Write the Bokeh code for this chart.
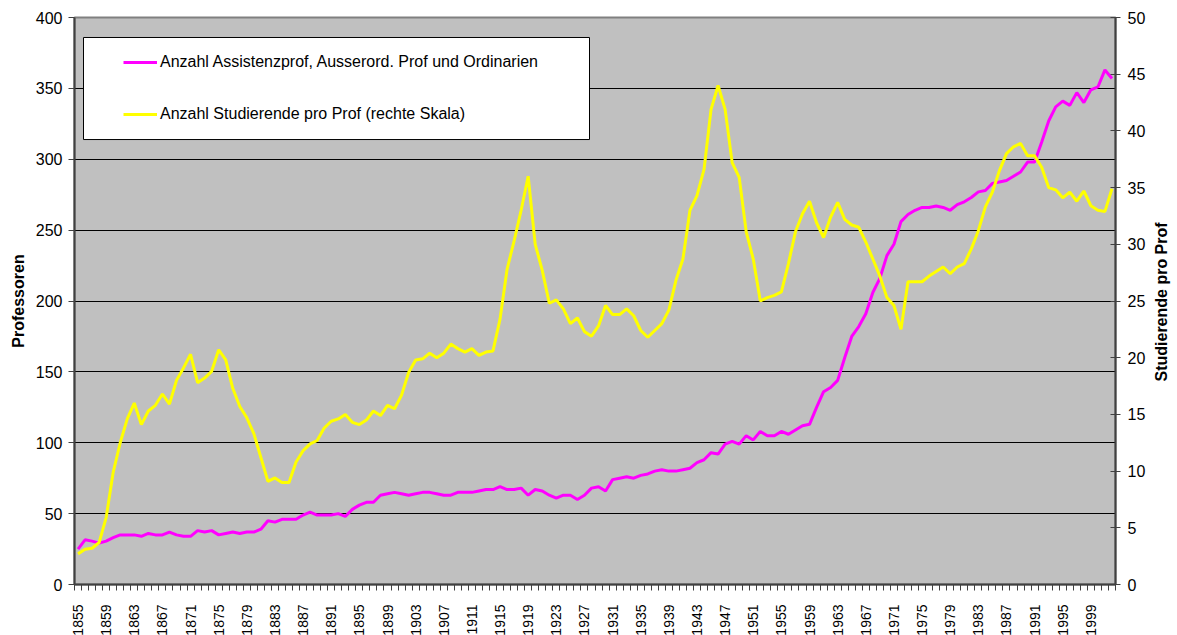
import math
from bokeh.plotting import figure
from bokeh.models import (Range1d, LinearAxis, FixedTicker, Legend, LegendItem,
                          BoxAnnotation, ColumnDataSource)
from bokeh.embed import file_html
from bokeh.resources import INLINE

# ---------------- data ----------------
years = list(range(1855, 2003))

professoren = [
    25, 31.5, 30.6, 29.2, 30.6, 33, 35, 35, 35, 34,            # 1855-1864
    36, 35, 35, 37, 35, 34, 34, 38, 37, 38,                    # 1865-1874
    35, 36, 37, 36, 37, 37, 39, 45, 44, 46,                    # 1875-1884
    46, 46, 49, 51, 49, 49, 49, 50, 48, 53,                    # 1885-1894
    56, 58, 58, 63, 64, 65, 64, 63, 64, 65,                    # 1895-1904
    65, 64, 63, 63, 65, 65, 65, 66, 67, 67,                    # 1905-1914
    69, 67, 67, 68, 63, 67, 66, 63, 61, 63,                    # 1915-1924
    63, 60, 63, 68, 69, 66, 74, 75, 76, 75,                    # 1925-1934
    77, 78, 80, 81, 80, 80, 81, 82, 86, 88,                    # 1935-1944
    93, 92, 99, 101, 99, 105, 102, 108, 105, 105,              # 1945-1954
    108, 106, 109, 112, 113, 125, 136, 139, 144, 160,          # 1955-1964
    175, 182, 191, 206, 216, 232, 240, 256, 261, 264,          # 1965-1974
    266, 266, 267, 266, 264, 268, 270, 273, 277, 278,          # 1975-1984
    283, 284, 285, 288, 291, 298, 298, 312, 327, 337,          # 1985-1994
    341, 338, 347, 340, 349, 351, 363, 357,                    # 1995-2002
]

studierende_pro_prof = [
    2.7, 3.1, 3.2, 3.7, 5.9, 9.9, 12.5, 14.6, 16.0, 14.1,      # 1855-1864
    15.3, 15.8, 16.8, 15.9, 18.0, 19.1, 20.3, 17.8, 18.2, 18.8,  # 1865-1874
    20.7, 19.8, 17.3, 15.7, 14.7, 13.3, 11.2, 9.1, 9.4, 9.0,   # 1875-1884
    9.0, 10.8, 11.8, 12.4, 12.7, 13.8, 14.4, 14.6, 15.0, 14.3,  # 1885-1894
    14.1, 14.5, 15.3, 14.9, 15.8, 15.5, 16.7, 18.7, 19.8, 19.9,  # 1895-1904
    20.4, 20.0, 20.4, 21.2, 20.8, 20.5, 20.8, 20.2, 20.5, 20.6,  # 1905-1914
    23.4, 27.8, 30.3, 33.0, 36.0, 30.0, 27.7, 24.8, 25.1, 24.3,  # 1915-1924
    23.0, 23.5, 22.3, 21.9, 22.8, 24.6, 23.8, 23.8, 24.3, 23.7,  # 1925-1934
    22.4, 21.8, 22.4, 23.0, 24.2, 26.8, 28.7, 33.0, 34.3, 36.6,  # 1935-1944
    41.9, 44.0, 41.9, 37.2, 35.9, 31.1, 28.7, 25.0, 25.3, 25.5,  # 1945-1954
    25.8, 28.3, 31.1, 32.7, 33.8, 31.9, 30.6, 32.4, 33.7, 32.2,  # 1955-1964
    31.7, 31.5, 30.2, 28.7, 27.2, 25.3, 24.6, 22.5, 26.7, 26.7,  # 1965-1974
    26.7, 27.2, 27.6, 28.0, 27.4, 28.0, 28.3, 29.6, 31.2, 33.3,  # 1975-1984
    34.6, 36.5, 38.0, 38.6, 38.9, 37.8, 37.8, 36.8, 35.0, 34.8,  # 1985-1994
    34.1, 34.6, 33.8, 34.7, 33.4, 33.0, 32.9, 34.9,            # 1995-2002
]

left_ticks = [0, 50, 100, 150, 200, 250, 300, 350, 400]
grid_ticks = [50, 100, 150, 200, 250, 300, 350]
right_ticks = [0, 5, 10, 15, 20, 25, 30, 35, 40, 45, 50]
label_years = list(range(1855, 2003, 4))

label_prof = "Anzahl Assistenzprof, Ausserord. Prof und Ordinarien"
label_stud = "Anzahl Studierende pro Prof (rechte Skala)"
title_left = "Professoren"
title_right = "Studierende pro Prof"

assert len(professoren) == len(years) and len(studierende_pro_prof) == len(years)

# ---------------- style ----------------
FONT = "Liberation Sans"
AXIS_COLOR = "#404040"
FRAME_W, FRAME_H = 1041, 567
RIGHT_TITLE_START = 17.9   # where the bottom-to-top right title begins (right scale)

p = figure(frame_width=FRAME_W, frame_height=FRAME_H,
           output_backend="svg", toolbar_location=None,
           x_range=Range1d(years[0] - 0.5, years[-1] + 0.5),
           y_range=Range1d(left_ticks[0], left_ticks[-1]),
           min_border_left=74, min_border_right=56,
           min_border_top=17, min_border_bottom=46,
           background_fill_color="#C0C0C0", border_fill_color="white",
           outline_line_color="#808080", outline_line_width=2)
p.extra_y_ranges = {"right": Range1d(right_ticks[0], right_ticks[-1])}

p.xgrid.visible = False
p.ygrid.ticker = FixedTicker(ticks=grid_ticks)
p.ygrid.grid_line_color = "black"
p.ygrid.grid_line_width = 1

# x axis
xa = p.below[0]
xa.ticker = FixedTicker(ticks=label_years,
                        minor_ticks=[y - 0.5 for y in years] + [years[-1] + 0.5])
xa.major_label_orientation = math.pi / 2
xa.major_tick_out = 0
xa.major_tick_in = 0
xa.minor_tick_out = 6
xa.minor_tick_in = 0
xa.minor_tick_line_color = AXIS_COLOR
xa.major_label_standoff = 14
xa.major_label_text_font = FONT
xa.major_label_text_font_size = "14px"
xa.major_label_text_color = "black"
xa.axis_line_color = AXIS_COLOR
xa.axis_line_width = 2

# left axis
ya = p.left[0]
ya.ticker = FixedTicker(ticks=left_ticks)
ya.major_tick_out = 6
ya.major_tick_in = 0
ya.minor_tick_out = 0
ya.minor_tick_in = 0
ya.major_tick_line_color = AXIS_COLOR
ya.major_label_standoff = 6
ya.major_label_text_font = FONT
ya.major_label_text_font_size = "16px"
ya.major_label_text_color = "black"
ya.axis_line_color = AXIS_COLOR
ya.axis_line_width = 2
ya.axis_label = title_left
ya.axis_label_text_font = FONT
ya.axis_label_text_font_size = "16px"
ya.axis_label_text_font_style = "bold"
ya.axis_label_text_color = "black"
ya.axis_label_standoff = 6

# right axis
ra = LinearAxis(y_range_name="right", ticker=FixedTicker(ticks=right_ticks))
ra.major_tick_out = 5
ra.major_tick_in = 5
ra.minor_tick_out = 0
ra.minor_tick_in = 0
ra.major_tick_line_color = AXIS_COLOR
ra.major_label_standoff = 7
ra.major_label_text_font = FONT
ra.major_label_text_font_size = "16px"
ra.major_label_text_color = "black"
ra.axis_line_color = AXIS_COLOR
ra.axis_line_width = 2
p.add_layout(ra, "right")

# right axis title (reads bottom-to-top as in the original), set as a
# rotated single tick label of a bare companion axis
rt = LinearAxis(y_range_name="right",
                ticker=FixedTicker(ticks=[RIGHT_TITLE_START], minor_ticks=[]))
rt.major_label_overrides = {RIGHT_TITLE_START: title_right}
rt.major_label_orientation = math.pi / 2
rt.axis_line_color = None
rt.major_tick_line_color = None
rt.minor_tick_line_color = None
rt.major_tick_out = 0
rt.major_tick_in = 0
rt.major_label_standoff = 13
rt.major_label_text_font = FONT
rt.major_label_text_font_size = "16px"
rt.major_label_text_font_style = "bold"
rt.major_label_text_color = "black"
p.add_layout(rt, "right")

# lines
src = ColumnDataSource(dict(year=years, prof=professoren, stud=studierende_pro_prof))
r_prof = p.line("year", "prof", source=src, line_color="#FF00FF", line_width=3)
r_stud = p.line("year", "stud", source=src, y_range_name="right",
                line_color="#FFFF00", line_width=3)

# legend frame (white box) + legend entries
box = BoxAnnotation(left=1855.78, right=1927.72, top=385.9, bottom=313.9,
                    fill_color="white", fill_alpha=1.0,
                    line_color="black", line_width=1, line_alpha=1.0)
p.add_layout(box)

legend = Legend(items=[LegendItem(label=label_prof, renderers=[r_prof]),
                       LegendItem(label=label_stud, renderers=[r_stud])],
                location=(49, 460), padding=0, margin=0, spacing=32,
                glyph_width=34, glyph_height=20, label_height=20,
                label_standoff=3, border_line_color=None,
                background_fill_alpha=0.0,
                label_text_font=FONT, label_text_font_size="16px",
                label_text_color="black")
p.add_layout(legend)

open("out.html", "w").write(file_html(p, INLINE))
